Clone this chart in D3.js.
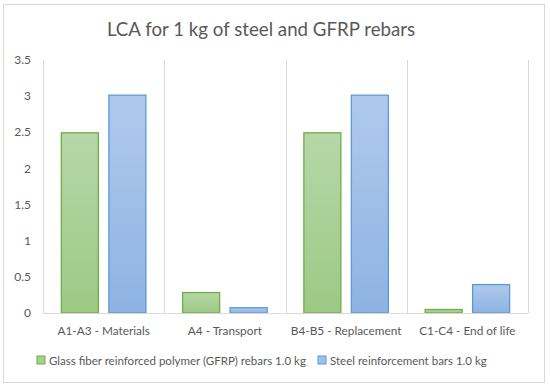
<!DOCTYPE html>
<html>
<head>
<meta charset="utf-8">
<script src="https://cdn.jsdelivr.net/npm/d3@7"></script>
<style>
  body { margin: 0; background: #fff; }
  svg text { font-family: Lato, "Open Sans", sans-serif; fill: #595959; }
</style>
</head>
<body>
<div id="vis"></div>
<script>
// chart values
var categories = ["A1-A3 - Materials", "A4 - Transport", "B4-B5 - Replacement", "C1-C4 - End of life"];
var seriesNames = ["Glass fiber reinforced polymer (GFRP) rebars 1.0 kg", "Steel reinforcement bars 1.0 kg"];
var gfrpValues = [2.5, 0.29, 2.5, 0.055];
var steelValues = [3.02, 0.08, 3.02, 0.40];
var yTicks = [0, 0.5, 1, 1.5, 2, 2.5, 3, 3.5];

var width = 550, height = 388;
var margin = {top: 60, right: 22, bottom: 75, left: 43};
var plotW = width - margin.left - margin.right,
    plotH = height - margin.top - margin.bottom;

var svg = d3.select("#vis").append("svg")
  .attr("width", width)
  .attr("height", height);

var defs = svg.append("defs");
function grad(id, top, bottom) {
  var lg = defs.append("linearGradient").attr("id", id)
    .attr("x1", 0).attr("y1", 0).attr("x2", 0).attr("y2", 1);
  lg.append("stop").attr("offset", "0%").attr("stop-color", top);
  lg.append("stop").attr("offset", "100%").attr("stop-color", bottom);
}
grad("gGreen", "#b6d7a8", "#9cc984");
grad("gBlue", "#afc9ec", "#8eb3e3");

var fills = ["url(#gGreen)", "url(#gBlue)"],
    strokes = ["#70ad47", "#5b9bd5"],
    legendFills = ["#a9d08e", "#9dc3e6"];

// outer frame
svg.append("rect")
  .attr("x", 3.5).attr("y", 4.5)
  .attr("width", 541).attr("height", 378)
  .attr("fill", "#fff")
  .attr("stroke", "#d9d9d9");

svg.append("text")
  .attr("x", 261).attr("y", 36)
  .attr("text-anchor", "middle")
  .style("font-size", "18.7px")
  .text("LCA for 1 kg of steel and GFRP rebars");

var x = d3.scaleBand().domain(categories).range([0, plotW]).padding(0);
var x1 = d3.scaleBand().domain([0, 1]).range([0, x.bandwidth()])
  .paddingInner(0.2).paddingOuter(0.376);
var y = d3.scaleLinear().domain([0, 3.5]).range([plotH, 0]);

var graph = svg.append("g")
  .attr("transform", "translate(" + margin.left + "," + margin.top + ")");

// category separators
graph.selectAll(".sep")
  .data(categories.concat(["end"]))
  .enter().append("line")
  .attr("x1", function(d, i) { return Math.round(i * x.step()) + 0.5; })
  .attr("x2", function(d, i) { return Math.round(i * x.step()) + 0.5; })
  .attr("y1", 0)
  .attr("y2", plotH)
  .attr("stroke", "#d9d9d9");

// y axis labels
graph.selectAll(".ytick")
  .data(yTicks)
  .enter().append("text")
  .attr("x", -12)
  .attr("y", function(d) { return y(d); })
  .attr("dy", "0.35em")
  .attr("text-anchor", "end")
  .style("font-size", "12px")
  .text(function(d) { return d; });

// bars
var rows = categories.map(function(c, i) { return {cat: c, vals: [gfrpValues[i], steelValues[i]]}; });
var groups = graph.selectAll(".grp")
  .data(rows)
  .enter().append("g")
  .attr("transform", function(d) { return "translate(" + x(d.cat) + ",0)"; });

groups.selectAll("rect")
  .data(function(d) { return d.vals; })
  .enter().append("rect")
  .attr("x", function(d, i) { return x1(i) + 0.5; })
  .attr("y", function(d) { return y(d) + 0.5; })
  .attr("width", x1.bandwidth() - 1)
  .attr("height", function(d) { return Math.max(0, plotH - y(d) - 0.5); })
  .attr("fill", function(d, i) { return fills[i]; })
  .attr("stroke", function(d, i) { return strokes[i]; })
  .attr("stroke-width", 1.3);

// baseline
graph.append("line")
  .attr("x1", 0).attr("x2", plotW)
  .attr("y1", plotH + 0.5).attr("y2", plotH + 0.5)
  .attr("stroke", "#d9d9d9");

// category labels
graph.selectAll(".xlab")
  .data(categories)
  .enter().append("text")
  .attr("x", function(d) { return x(d) + x.bandwidth() / 2; })
  .attr("y", plotH + 22)
  .attr("text-anchor", "middle")
  .style("font-size", "11.8px")
  .text(function(d) { return d; });

// legend
var legendX = [37, 318];
var leg = svg.selectAll(".leg")
  .data(seriesNames)
  .enter().append("g")
  .attr("transform", function(d, i) { return "translate(" + legendX[i] + ",356)"; });
leg.append("rect")
  .attr("width", 8).attr("height", 8)
  .attr("fill", function(d, i) { return legendFills[i]; })
  .attr("stroke", function(d, i) { return strokes[i]; });
leg.append("text")
  .attr("x", 12).attr("y", 9)
  .style("font-size", "11.5px")
  .text(function(d) { return d; });
</script>
</body>
</html>
